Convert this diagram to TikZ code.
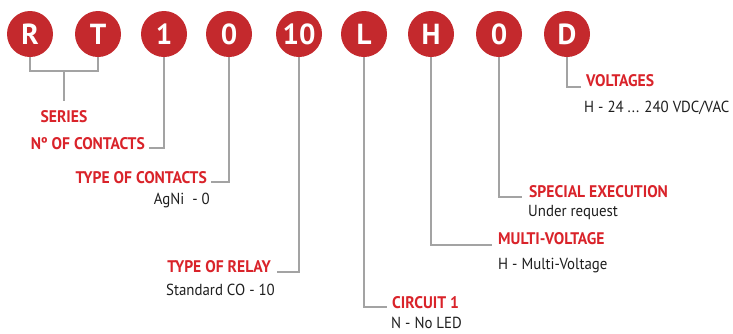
\documentclass[tikz,border=0pt]{standalone}
\usepackage{fontspec}
\setmainfont{PT Sans}
\newfontfamily\labfont[FakeStretch=0.93]{PT Sans}
\definecolor{circred}{HTML}{C4292D}
\definecolor{labred}{HTML}{D9232A}
\definecolor{linegray}{HTML}{A3A3A3}
\definecolor{txtgray}{HTML}{1E1E1E}
\tikzset{
  circ/.style={circle, fill=circred, minimum size=46pt, inner sep=0pt, text=white,
    font=\bfseries\fontsize{29}{29}\selectfont},
  lab/.style={inner sep=0pt, text=labred, font=\labfont\bfseries\fontsize{16.8}{17}\selectfont},
  desc/.style={inner sep=0pt, text=txtgray, font=\labfont\fontsize{16}{17}\selectfont},
  conn/.style={draw=linegray, line width=1.3pt}
}
\begin{document}
\begin{tikzpicture}[x=1pt,y=-1pt]
\useasboundingbox (0,0) rectangle (733,333);
% circles
\node[circ] (c1) at (30,34) {R};
\node[circ] (c2) at (98,34) {T};
\node[circ] (c3) at (164,34) {1};
\node[circ] (c4) at (229,34) {0};
\node[circ] (c5) at (299,34) {10};
\node[circ] (c6) at (364,34) {L};
\node[circ] (c7) at (431,34) {H};
\node[circ] (c8) at (499,34) {0};
\node[circ] (c9) at (567,34) {D};
% joints / ends
\coordinate (sj) at (64,71);
\coordinate (se) at (64,101);
\coordinate (e3) at (149,148);
\coordinate (e4) at (211,182);
\coordinate (e5) at (277,272);
\coordinate (e6) at (387,307);
\coordinate (e7) at (492,245);
\coordinate (e8) at (522,197);
\coordinate (e9) at (581,87);
% labels
\node[lab, anchor=base] (l1) at (64,122) {SERIES};
\node[lab, anchor=base east] (l3) at (145,149) {Nº OF CONTACTS};
\node[lab, anchor=base east] (l4) at (207,183) {TYPE OF CONTACTS};
\node[desc, anchor=base east] (d4) at (210,204) {AgNi\ \ - 0};
\node[lab, anchor=base east] (l5) at (271,272) {TYPE OF RELAY};
\node[desc, anchor=base east] (d5) at (275,295) {Standard CO - 10};
\node[lab, anchor=base west] (l6) at (392,308) {CIRCUIT 1};
\node[desc, anchor=base west] (d6) at (391,328.5) {N - No LED};
\node[lab, anchor=base west] (l7) at (498,244) {MULTI-VOLTAGE};
\node[desc, anchor=base west] (d7) at (498,269) {H - Multi-Voltage};
\node[lab, anchor=base west] (l8) at (529,197) {SPECIAL EXECUTION};
\node[desc, anchor=base west] (d8) at (528,216) {Under request};
\node[lab, anchor=base west] (l9) at (586,86) {VOLTAGES};
\node[desc, anchor=base west] (d9) at (584,112) {H - 24 ... 240 VDC/VAC};
% connectors
\draw[conn] (c1.south) |- (sj) -| (c2.south);
\draw[conn] (sj) -- (se);
\draw[conn] (c3.south) |- (e3);
\draw[conn] (c4.south) |- (e4);
\draw[conn] (c5.south) |- (e5);
\draw[conn] (c6.south) |- (e6);
\draw[conn] (c7.south) |- (e7);
\draw[conn] (c8.south) |- (e8);
\draw[conn] (c9.south) |- (e9);
\end{tikzpicture}
\end{document}
